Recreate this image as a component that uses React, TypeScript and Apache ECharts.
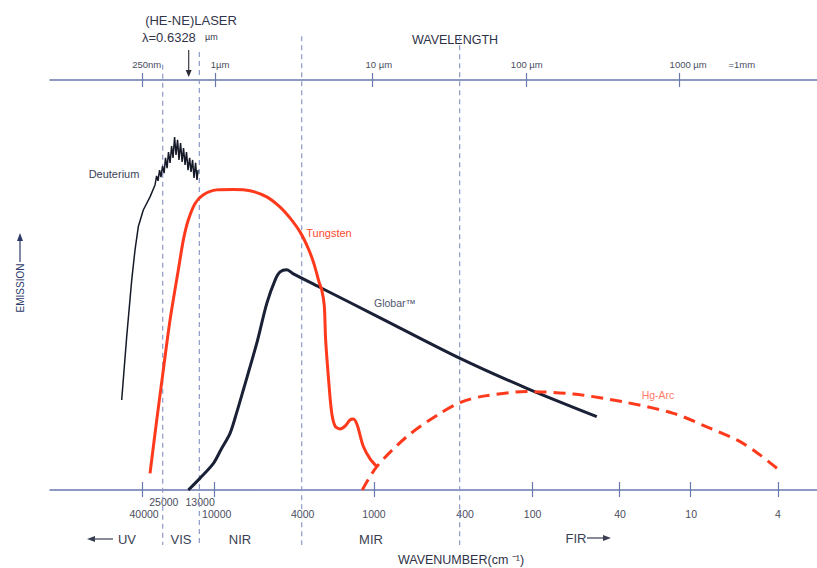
import React, { useEffect, useRef } from "react";
import * as echarts from "echarts";

// x unit: decades of wavelength relative to 1 µm, as drawn on this schematic
const X_MIN = -1.05;
const X_MAX = 3.85;
// y unit: relative emission
const Y_MIN = 0;
const Y_MAX = 100;

const deuterium: number[][] = [
  [-0.592, 21.95], [-0.56, 37.4], [-0.528, 51.2], [-0.507, 58.5], [-0.486, 64.2],
  [-0.454, 68.3], [-0.411, 71.5], [-0.379, 74.4],
  [-0.369, 76.6], [-0.36, 75.4], [-0.35, 78.0], [-0.341, 76.3], [-0.331, 79.0],
  [-0.321, 77.3], [-0.312, 81.0], [-0.302, 78.5], [-0.293, 82.4], [-0.283, 79.8],
  [-0.273, 83.9], [-0.264, 81.0], [-0.254, 86.1], [-0.245, 81.7], [-0.235, 85.4],
  [-0.226, 80.5], [-0.216, 84.6], [-0.206, 80.0], [-0.197, 83.4], [-0.187, 79.3],
  [-0.178, 82.4], [-0.168, 78.0], [-0.158, 81.0], [-0.149, 77.6], [-0.139, 80.5],
  [-0.13, 76.1], [-0.12, 79.8], [-0.111, 75.6], [-0.104, 78.0],
];

const tungsten: number[][] = [
  [-0.411, 4.07], [-0.368, 17.1], [-0.326, 29.3], [-0.283, 41.5], [-0.23, 53.7],
  [-0.198, 61.0], [-0.166, 65.9], [-0.123, 69.9], [-0.07, 72.0], [0.015, 73.2],
  [0.121, 73.3], [0.228, 73.0], [0.335, 71.5], [0.42, 69.0], [0.484, 66.3],
  [0.548, 62.9], [0.599, 59.0], [0.637, 55.1], [0.669, 50.7], [0.686, 48.8],
  [0.702, 45.1], [0.711, 36.6], [0.73, 26.8], [0.749, 19.0], [0.771, 15.6],
  [0.803, 14.9], [0.835, 15.6], [0.867, 17.1], [0.888, 17.3], [0.912, 15.9],
  [0.952, 10.6], [0.995, 7.6], [1.038, 5.7],
];

const globar: number[][] = [
  [-0.166, 0], [-0.091, 2.9], [-0.006, 6.5], [0.043, 9.9], [0.1, 13.8],
  [0.142, 18.8], [0.185, 24.4], [0.271, 35.8], [0.335, 45.5], [0.388, 51.2],
  [0.42, 53.2], [0.463, 53.7], [0.505, 52.7], [0.686, 49.2], [1.059, 42.0],
  [1.57, 32.1], [1.996, 24.8], [2.443, 17.9],
];

const hgArc: number[][] = [
  [0.945, 0], [1.038, 5.7], [1.229, 13.0], [1.442, 18.7], [1.581, 21.5],
  [1.719, 22.9], [1.996, 24.0], [2.294, 23.4], [2.613, 21.5], [2.933, 18.7],
  [3.146, 15.4], [3.359, 11.8], [3.487, 8.5], [3.594, 5.3],
];

// wavelength (top) axis
const topTickAt = [-0.458, 0.004, 1.01, 1.99, 2.969];
const topLabels = ["250nm", "1µm", "10 µm", "100 µm", "1000 µm", "=1mm"];
const topLabelAt = [-0.432, 0.036, 1.051, 1.996, 3.027, 3.37];

// wavenumber (bottom) axis
const wnTickAt = [-0.458, 0, 1.02, 2.03, 2.586, 3.04, 3.602];
const wnLabels = ["40000", "10000", "4000", "1000", "400", "100", "40", "10", "4"];
const wnLabelAt = [-0.449, 0.015, 0.564, 1.02, 1.602, 2.033, 2.592, 3.046, 3.6];
const wnUpperLabels = ["25000", "13000"];
const wnUpperLabelAt = [-0.323, -0.091];

// region boundaries (25000, 13000, 4000, 400 cm-1)
const regionBoundaryAt = [-0.33, -0.096, 0.558, 1.567];
const regionBoundaryTop = [103.7, 106.8, 110.7, 110.7];
const regionBoundaryBottom = [-13.4, -13.4, -13.4, -13.4];

// He-Ne laser line 0.6328 µm
const laserAt = -0.164;
const laserArrowFrom = 107.3;
const laserArrowTo = 101.6;

const FONT = "'Liberation Sans', Arial, Helvetica, sans-serif";
const AXIS_COLOR = "#6a78b0";
const LABEL_COLOR = "#4a4e5e";

function lookup(at: number[], labels: string[]) {
  return (v: number) => {
    const i = at.findIndex((a) => Math.abs(a - v) < 1e-6);
    return i >= 0 ? labels[i] : "";
  };
}

export default function App() {
  const ref = useRef<HTMLDivElement>(null);

  useEffect(() => {
    if (!ref.current) return;
    const chart = echarts.init(ref.current, undefined, { renderer: "svg" });

    const baseX = {
      type: "value" as const,
      min: X_MIN,
      max: X_MAX,
      splitLine: { show: false },
    };

    const guideSeries = regionBoundaryAt.map((u, i) => ({
      type: "line",
      data: [
        [u, regionBoundaryTop[i]],
        [u, regionBoundaryBottom[i]],
      ],
      symbol: "none",
      clip: false,
      silent: true,
      lineStyle: { type: [5, 4], color: "#8e9ac6", width: 1.2 },
      z: 1,
    }));

    const option: any = {
      animation: false,
      backgroundColor: "#ffffff",
      textStyle: { fontFamily: FONT },
      grid: { left: 50, right: 0, top: 80, bottom: 78, containLabel: false },
      xAxis: [
        {
          ...baseX,
          position: "bottom",
          axisLine: { show: true, onZero: false, lineStyle: { color: AXIS_COLOR, width: 1.5 } },
          axisTick: {
            show: true,
            inside: false,
            length: 7,
            customValues: wnTickAt,
            lineStyle: { color: AXIS_COLOR, width: 1.2 },
          },
          axisLabel: {
            customValues: wnLabelAt,
            formatter: lookup(wnLabelAt, wnLabels),
            margin: 18,
            fontSize: 10.5,
            color: LABEL_COLOR,
            fontFamily: FONT,
          },
        },
        {
          ...baseX,
          position: "bottom",
          axisLine: { show: false, onZero: false },
          axisTick: {
            show: true,
            inside: true,
            length: 8,
            customValues: wnTickAt,
            lineStyle: { color: AXIS_COLOR, width: 1.2 },
          },
          axisLabel: {
            customValues: wnUpperLabelAt,
            formatter: lookup(wnUpperLabelAt, wnUpperLabels),
            margin: 6,
            fontSize: 10.5,
            color: LABEL_COLOR,
            fontFamily: FONT,
          },
        },
        {
          ...baseX,
          position: "top",
          axisLine: { show: true, onZero: false, lineStyle: { color: AXIS_COLOR, width: 1.5 } },
          axisTick: {
            show: true,
            inside: false,
            length: 7,
            customValues: topTickAt,
            lineStyle: { color: AXIS_COLOR, width: 1.2 },
          },
          axisLabel: {
            customValues: topLabelAt,
            formatter: lookup(topLabelAt, topLabels),
            margin: 11,
            fontSize: 9.5,
            color: LABEL_COLOR,
            fontFamily: FONT,
          },
        },
        {
          ...baseX,
          position: "top",
          axisLine: { show: false, onZero: false },
          axisTick: {
            show: true,
            inside: true,
            length: 7,
            customValues: topTickAt,
            lineStyle: { color: AXIS_COLOR, width: 1.2 },
          },
          axisLabel: { show: false },
        },
      ],
      yAxis: { type: "value", min: Y_MIN, max: Y_MAX, show: false },
      series: [
        ...guideSeries,
        {
          type: "line",
          name: "laser",
          clip: false,
          silent: true,
          data: [
            { value: [laserAt, laserArrowFrom], symbol: "none" },
            {
              value: [laserAt, laserArrowTo],
              symbol: "triangle",
              symbolSize: [6, 7],
              symbolRotate: 180,
            },
          ],
          showSymbol: true,
          lineStyle: { color: "#3a3a44", width: 1.2 },
          itemStyle: { color: "#2a2a34" },
          z: 3,
        },
        {
          type: "line",
          name: "Deuterium",
          data: deuterium,
          symbol: "none",
          smooth: false,
          lineStyle: { color: "#161a28", width: 1.5 },
          z: 4,
        },
        {
          type: "line",
          name: "Globar",
          data: globar,
          symbol: "none",
          smooth: 0.3,
          lineStyle: { color: "#1a2036", width: 3 },
          z: 4,
        },
        {
          type: "line",
          name: "Hg-Arc",
          data: hgArc,
          symbol: "none",
          smooth: 0.3,
          lineStyle: { color: "#ff3a1c", width: 3, type: [12, 7] },
          z: 5,
        },
        {
          type: "line",
          name: "Tungsten",
          data: tungsten,
          symbol: "none",
          smooth: 0.3,
          lineStyle: { color: "#ff3a1c", width: 3 },
          z: 5,
        },
      ],
      graphic: [
        {
          type: "text",
          x: 191,
          y: 20,
          style: { text: "(HE-NE)LASER", font: `13px ${FONT}`, fill: "#33364a", align: "center", verticalAlign: "middle" },
        },
        {
          type: "text",
          x: 142,
          y: 37,
          style: { text: "λ=0.6328", font: `13px ${FONT}`, fill: "#33364a", align: "left", verticalAlign: "middle" },
        },
        {
          type: "text",
          x: 205,
          y: 37,
          style: { text: "µm", font: `9px ${FONT}`, fill: "#33364a", align: "left", verticalAlign: "middle" },
        },
        {
          type: "text",
          x: 455,
          y: 40,
          style: { text: "WAVELENGTH", font: `12.5px ${FONT}`, fill: "#2e3246", align: "center", verticalAlign: "middle" },
        },
        {
          type: "text",
          x: 461,
          y: 560,
          style: { text: "WAVENUMBER(cm ⁻¹)", font: `12.5px ${FONT}`, fill: "#2e3246", align: "center", verticalAlign: "middle" },
        },
        {
          type: "text",
          x: 127,
          y: 539,
          style: { text: "UV", font: `13px ${FONT}`, fill: "#3a3e52", align: "center", verticalAlign: "middle" },
        },
        { type: "line", shape: { x1: 92, y1: 539, x2: 113, y2: 539 }, style: { stroke: "#3a3e52", lineWidth: 1.2 } },
        { type: "polygon", shape: { points: [[87, 539], [95, 536], [95, 542]] }, style: { fill: "#3a3e52" } },
        {
          type: "text",
          x: 181,
          y: 539,
          style: { text: "VIS", font: `13px ${FONT}`, fill: "#3a3e52", align: "center", verticalAlign: "middle" },
        },
        {
          type: "text",
          x: 240,
          y: 539,
          style: { text: "NIR", font: `13px ${FONT}`, fill: "#3a3e52", align: "center", verticalAlign: "middle" },
        },
        {
          type: "text",
          x: 371,
          y: 539,
          style: { text: "MIR", font: `13px ${FONT}`, fill: "#3a3e52", align: "center", verticalAlign: "middle" },
        },
        {
          type: "text",
          x: 576,
          y: 538,
          style: { text: "FIR", font: `13px ${FONT}`, fill: "#3a3e52", align: "center", verticalAlign: "middle" },
        },
        { type: "line", shape: { x1: 587, y1: 538, x2: 606, y2: 538 }, style: { stroke: "#3a3e52", lineWidth: 1.2 } },
        { type: "polygon", shape: { points: [[611, 538], [603, 535], [603, 541]] }, style: { fill: "#3a3e52" } },
        {
          type: "text",
          x: 20,
          y: 288,
          rotation: Math.PI / 2,
          style: { text: "EMISSION", font: `10px ${FONT}`, fill: "#2c3a6a", align: "center", verticalAlign: "middle" },
        },
        { type: "line", shape: { x1: 20, y1: 262, x2: 20, y2: 240 }, style: { stroke: "#2c3a6a", lineWidth: 1.2 } },
        { type: "polygon", shape: { points: [[20, 233], [17, 241], [23, 241]] }, style: { fill: "#2c3a6a" } },
        {
          type: "text",
          x: 114,
          y: 174,
          style: { text: "Deuterium", font: `11px ${FONT}`, fill: "#3a3f58", align: "center", verticalAlign: "middle" },
        },
        {
          type: "text",
          x: 329,
          y: 233,
          style: { text: "Tungsten", font: `11px ${FONT}`, fill: "#ff4a2c", align: "center", verticalAlign: "middle" },
        },
        {
          type: "text",
          x: 395,
          y: 303,
          style: { text: "Globar™", font: `10.5px ${FONT}`, fill: "#4e5470", align: "center", verticalAlign: "middle" },
        },
        {
          type: "text",
          x: 658,
          y: 395,
          style: { text: "Hg-Arc", font: `10.5px ${FONT}`, fill: "#ff7a68", align: "center", verticalAlign: "middle" },
        },
      ],
    };

    chart.setOption(option);
    return () => chart.dispose();
  }, []);

  return (
    <div
      ref={ref}
      style={{ position: "fixed", left: 0, top: 0, width: 817, height: 568, background: "#fff" }}
    />
  );
}
